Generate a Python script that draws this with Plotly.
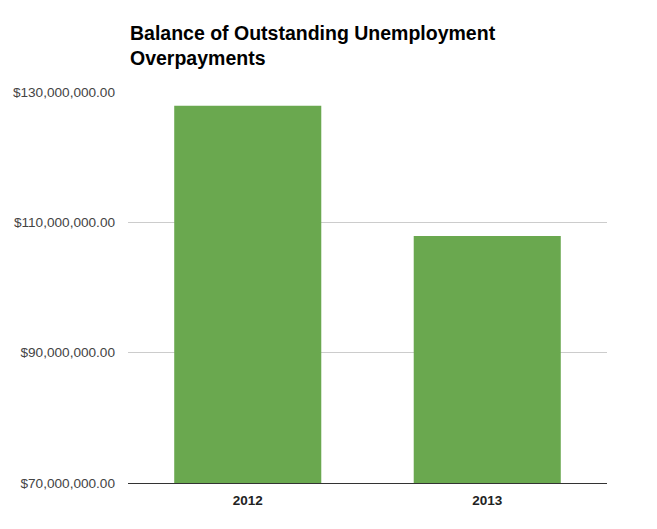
import plotly.graph_objects as go

# balance of overpayments still owed
years = ["2012", "2013"]
balances = [127_900_000, 107_900_000]

y_ticks = [70_000_000, 90_000_000, 110_000_000, 130_000_000]

# the page body adds an 8px offset, margins below account for it
fig = go.Figure(
    go.Bar(
        x=years,
        y=balances,
        marker=dict(color="#6aa84f", line=dict(width=0)),
        hovertemplate="%{x}<br>$%{y:,.2f}<extra></extra>",
    )
)

fig.update_layout(
    width=657,
    height=529,
    paper_bgcolor="white",
    plot_bgcolor="white",
    showlegend=False,
    bargap=0.386,
    margin=dict(l=120, r=58, t=84, b=54),
    font=dict(family="Arial, Liberation Sans, sans-serif", size=13, color="#444444"),
    title=dict(
        text="<b>Balance of Outstanding Unemployment<br>Overpayments</b>",
        x=122 / 657,
        xanchor="left",
        y=1 - 32 / 529,
        yanchor="top",
        font=dict(family="Arial, Liberation Sans, sans-serif", size=19.5, color="#000000"),
    ),
)

fig.update_yaxes(
    range=[70_000_000, 130_000_000],
    tickvals=y_ticks,
    tickformat="$,.2f",
    automargin=False,
    showgrid=True,
    gridcolor="#cccccc",
    gridwidth=1,
    zeroline=False,
    showline=False,
    ticks="",
    ticklabelstandoff=12,
    tickfont=dict(size=13.6, color="#444444"),
)

fig.update_xaxes(
    automargin=False,
    showline=True,
    linecolor="#333333",
    linewidth=1,
    showgrid=False,
    ticks="",
    ticklabelstandoff=5,
    tickfont=dict(size=13.5, color="#222222"),
    tickprefix="<b>",
    ticksuffix="</b>",
)

fig.write_html("out.html")
